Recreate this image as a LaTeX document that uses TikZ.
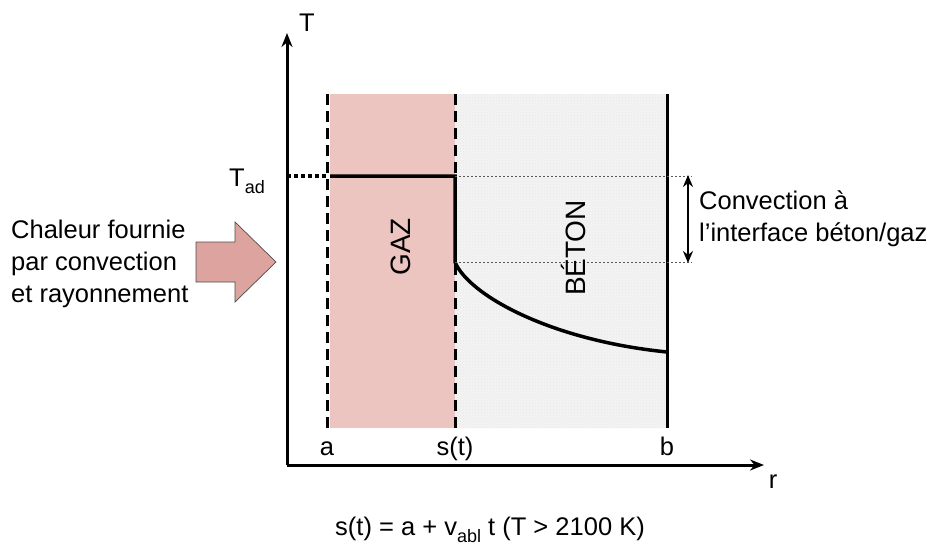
\documentclass[tikz,border=0pt]{standalone}
\usepackage{fontspec}
\setmainfont{Liberation Sans}
\usetikzlibrary{arrows.meta,patterns}
\definecolor{gazpink}{HTML}{ECC5C1}
\definecolor{arrowpink}{HTML}{DDA49F}
\definecolor{betongray}{HTML}{F3F3F3}

\begin{document}
\begin{tikzpicture}[
  x=1pt, y=-1pt,
  font=\fontsize{25.5}{32}\selectfont,
  >={Stealth[length=14pt,width=11pt]},
  axis/.style={->, line width=3pt},
  bound/.style={line width=3pt, dash pattern=on 11pt off 6pt},
  guide/.style={gray!70!black, line width=0.7pt, dash pattern=on 2pt off 2pt},
  profile/.style={line width=3.5pt},
  lbl/.style={inner sep=0pt},
  zone/.style={inner sep=0pt, rotate=90, font=\fontsize{28}{28}\selectfont},
]
  \useasboundingbox (0,0) rectangle (935,546);

  % zones gaz / beton
  \fill[gazpink] (330,94) rectangle (455,428);
  \fill[betongray] (455,94) rectangle (667,428);
  \fill[pattern=crosshatch dots, pattern color=gray!18] (455,94) rectangle (667,428);

  \coordinate (O) at (287,465);
  \coordinate (Tend) at (287,33);
  \coordinate (rend) at (764,465);
  \coordinate (atop) at (327,94);
  \coordinate (abot) at (327,428);
  \coordinate (stop) at (455,94);
  \coordinate (sbot) at (455,428);
  \coordinate (btop) at (667,94);
  \coordinate (bbot) at (667,428);
  \coordinate (tad) at (287,176);
  \coordinate (gazl) at (330,176);
  \coordinate (front) at (455,176);
  \coordinate (frontlow) at (455,262);
  \coordinate (bwall) at (667,352);
  \coordinate (gtop) at (692,176);
  \coordinate (gbot) at (692,262);
  \coordinate (dtop) at (688,175);
  \coordinate (dbot) at (688,263);

  % axes
  \draw[axis] (O) -- (Tend);
  \draw[axis] (O) -- (rend);
  \node[lbl, anchor=base] (Tlbl) at (307,31) {T};
  \node[lbl, anchor=base] (rlbl) at (773,488) {r};

  % limites
  \draw[bound] (atop) -- (abot);
  \draw[bound] (stop) -- (sbot);
  \draw[line width=3pt] (btop) -- (bbot);
  \node[lbl, anchor=base] (albl) at (327,455) {a};
  \node[lbl, anchor=base] (slbl) at (455,455) {s(t)};
  \node[lbl, anchor=base] (blbl) at (667,455) {b};

  % profil de temperature
  \draw[line width=3.5pt, dash pattern=on 4pt off 3pt] (tad) -- (atop |- tad);
  \draw[profile] (gazl) -- (front) -- (frontlow)
    .. controls (468,294) and (548,340) .. (bwall);
  \node[lbl, anchor=base west] (tadlbl) at (229,186)
    {T\raisebox{-7pt}{\fontsize{18}{18}\selectfont ad}};

  % saut a l'interface
  \draw[guide] (front) -- (gtop);
  \draw[guide] (frontlow) -- (gbot);
  \draw[<->, line width=2.5pt, >={Stealth[length=12pt,width=10pt]}] (dtop) -- (dbot);
  \node[lbl, anchor=west, align=left] (conv) at (699,219)
    {Convection à\\l’interface béton/gaz};

  \node[zone] (gaz) at (401,247) {GAZ};
  \node[zone] (beton) at (573,248) {BÉTON};

  % apport de chaleur
  \filldraw[fill=arrowpink, draw=black!70, line width=0.7pt]
    (196,242) -- (235,242) -- (235,222) -- (276,262) -- (235,302)
    -- (235,282) -- (196,282) -- cycle;
  \node[lbl, anchor=west, align=left] (heat) at (11,264)
    {Chaleur fournie\\par convection\\et rayonnement};

  \node[lbl, anchor=base] (eq) at (490,535)
    {s(t) = a + v\raisebox{-7pt}{\fontsize{18}{18}\selectfont abl} t (T > 2100 K)};
\end{tikzpicture}
\end{document}
